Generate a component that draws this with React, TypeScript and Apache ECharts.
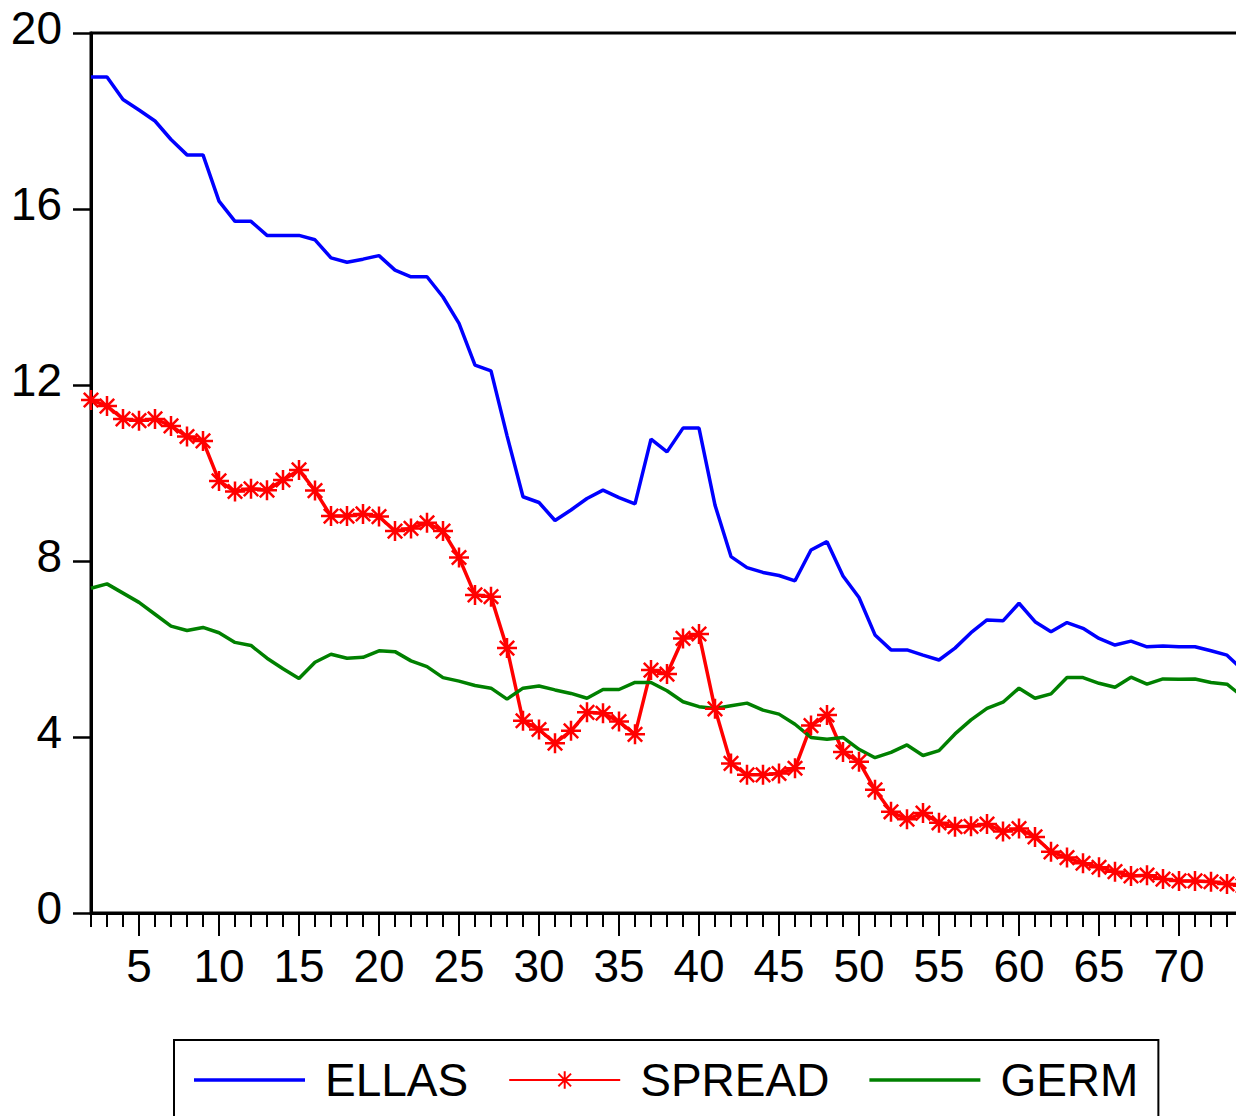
import React, { useEffect, useRef } from "react";
import * as echarts from "echarts";

// Observation numbers (category axis); the last one lies beyond the cropped right edge
const OBS = [
  "2", "3", "4", "5", "6", "7", "8", "9", "10", "11", "12", "13", "14", "15", "16", "17", "18", "19", "20",
  "21", "22", "23", "24", "25", "26", "27", "28", "29", "30", "31", "32", "33", "34", "35", "36", "37", "38",
  "39", "40", "41", "42", "43", "44", "45", "46", "47", "48", "49", "50", "51", "52", "53", "54", "55", "56",
  "57", "58", "59", "60", "61", "62", "63", "64", "65", "66", "67", "68", "69", "70", "71", "72", "73", "74", "75",
];

const ELLAS = [
  19.0, 19.0, 18.49, 18.25, 18.0, 17.58, 17.23, 17.23, 16.18, 15.72, 15.72, 15.4, 15.4, 15.4, 15.3, 14.89,
  14.79, 14.86, 14.94, 14.61, 14.46, 14.46, 14.0, 13.4, 12.45, 12.32, 10.85, 9.46, 9.33, 8.92, 9.16, 9.42,
  9.61, 9.44, 9.3, 10.77, 10.48, 11.02, 11.02, 9.27, 8.1, 7.85, 7.74, 7.67, 7.55, 8.25, 8.44, 7.66, 7.17,
  6.32, 5.98, 5.98, 5.86, 5.75, 6.02, 6.37, 6.66, 6.64, 7.04, 6.62, 6.39, 6.6, 6.47, 6.24, 6.09, 6.18, 6.05,
  6.07, 6.05, 6.05, 5.96, 5.86, 5.52,
];

const SPREAD = [
  11.66, 11.52, 11.23, 11.19, 11.23, 11.07, 10.83, 10.73, 9.82, 9.58, 9.64, 9.61, 9.84, 10.07, 9.6, 9.02,
  9.02, 9.07, 9.01, 8.68, 8.74, 8.87, 8.68, 8.08, 7.23, 7.19, 6.02, 4.37, 4.17, 3.86, 4.14, 4.56, 4.54, 4.35,
  4.06, 5.52, 5.43, 6.24, 6.34, 4.64, 3.4, 3.14, 3.14, 3.17, 3.29, 4.26, 4.5, 3.66, 3.44, 2.8, 2.3, 2.13,
  2.27, 2.05, 1.96, 1.97, 2.02, 1.85, 1.92, 1.73, 1.39, 1.26, 1.13, 1.04, 0.94, 0.84, 0.86, 0.77, 0.73,
  0.73, 0.71, 0.66, 0.62,
];

const GERM = [
  7.38, 7.48, 7.27, 7.06, 6.79, 6.52, 6.42, 6.49, 6.37, 6.15, 6.08, 5.79, 5.55, 5.33, 5.7, 5.88, 5.79, 5.81,
  5.96, 5.94, 5.73, 5.6, 5.35, 5.27, 5.17, 5.11, 4.86, 5.11, 5.16, 5.07, 4.99, 4.88, 5.08, 5.08, 5.24, 5.24,
  5.05, 4.8, 4.69, 4.65, 4.71, 4.77, 4.61, 4.52, 4.29, 3.99, 3.95, 3.99, 3.72, 3.53, 3.65, 3.82, 3.58, 3.69,
  4.07, 4.39, 4.65, 4.79, 5.11, 4.88, 4.98, 5.35, 5.35, 5.22, 5.13, 5.36, 5.2, 5.32, 5.31, 5.32, 5.24, 5.2,
  4.91,
];

const SERIES_NAMES = ["ELLAS", "SPREAD", "GERM"];
const Y_MIN = 0;
const Y_MAX = 20;
const Y_STEP = 4;
const X_LABEL_STEP = 5;

const FONT = "'Liberation Sans', Arial, sans-serif";
const STAR = "path://M0,-10L0,10M-10,0L10,0M-7.2,-7.2L7.2,7.2M-7.2,7.2L7.2,-7.2";
const LINE_ICON = "path://M0,0H111V3.5H0Z";

export default function App() {
  const ref = useRef<HTMLDivElement>(null);

  useEffect(() => {
    if (!ref.current) return;
    const chart = echarts.init(ref.current, null, { renderer: "svg" });
    const isMajor = (_i: number, v: string) => Number(v) % X_LABEL_STEP === 0 && Number(v) < 75;
    chart.setOption({
      animation: false,
      backgroundColor: "#ffffff",
      textStyle: { fontFamily: FONT },
      grid: {
        left: 91,
        width: 1168,
        top: 33,
        height: 880,
        containLabel: false,
        outerBoundsMode: "none",
        show: true,
        borderColor: "#000",
        borderWidth: 3,
        backgroundColor: "transparent",
      },
      legend: {
        data: [
          { name: SERIES_NAMES[0], icon: LINE_ICON },
          { name: SERIES_NAMES[1] },
          { name: SERIES_NAMES[2], icon: LINE_ICON },
        ],
        left: 174,
        top: 1040,
        orient: "horizontal",
        itemWidth: 111,
        itemHeight: 22,
        itemGap: 40,
        padding: [15, 20, 60, 20],
        borderColor: "#000",
        borderWidth: 2,
        borderRadius: 0,
        textStyle: {
          fontFamily: FONT,
          fontSize: 46,
          color: "#000",
          lineHeight: 50,
          padding: [0, 0, 0, 15],
        },
      },
      xAxis: [
        {
          type: "category",
          data: OBS,
          boundaryGap: false,
          position: "bottom",
          axisLine: { show: true, lineStyle: { color: "#000", width: 3 } },
          axisTick: { show: true, interval: 0, length: 14, lineStyle: { color: "#000", width: 2 } },
          axisLabel: { show: false },
          splitLine: { show: false },
        },
        {
          type: "category",
          data: OBS,
          boundaryGap: false,
          position: "bottom",
          axisLine: { show: false },
          axisTick: { show: true, interval: isMajor, length: 23, lineStyle: { color: "#000", width: 2 } },
          axisLabel: {
            show: true,
            interval: isMajor,
            fontSize: 46,
            color: "#000",
            fontFamily: FONT,
            margin: 30,
          },
          splitLine: { show: false },
        },
      ],
      yAxis: {
        type: "value",
        min: Y_MIN,
        max: Y_MAX,
        interval: Y_STEP,
        axisLine: { show: true, lineStyle: { color: "#000", width: 3 } },
        axisTick: { show: true, length: 18, lineStyle: { color: "#000", width: 2.5 } },
        axisLabel: {
          fontSize: 46,
          color: "#000",
          fontFamily: FONT,
          margin: 29,
          verticalAlign: "bottom",
          lineHeight: 10,
        },
        splitLine: { show: false },
      },
      series: [
        {
          name: "ELLAS",
          type: "line",
          xAxisIndex: 0,
          data: ELLAS,
          symbol: "none",
          lineStyle: { color: "#0000ff", width: 3.5 },
          itemStyle: { color: "#0000ff" },
        },
        {
          name: "SPREAD",
          type: "line",
          xAxisIndex: 0,
          data: SPREAD,
          symbol: STAR,
          symbolSize: 20,
          showSymbol: true,
          showAllSymbol: true,
          lineStyle: { color: "#ff0000", width: 3.5 },
          itemStyle: { color: "#ff0000", borderColor: "#ff0000", borderWidth: 2.5 },
        },
        {
          name: "GERM",
          type: "line",
          xAxisIndex: 0,
          data: GERM,
          symbol: "none",
          lineStyle: { color: "#008000", width: 3.5 },
          itemStyle: { color: "#008000" },
        },
      ],
    });
    return () => chart.dispose();
  }, []);

  return (
    <div
      ref={ref}
      style={{ position: "absolute", left: 0, top: 0, width: 1236, height: 1116, background: "#fff" }}
    />
  );
}
